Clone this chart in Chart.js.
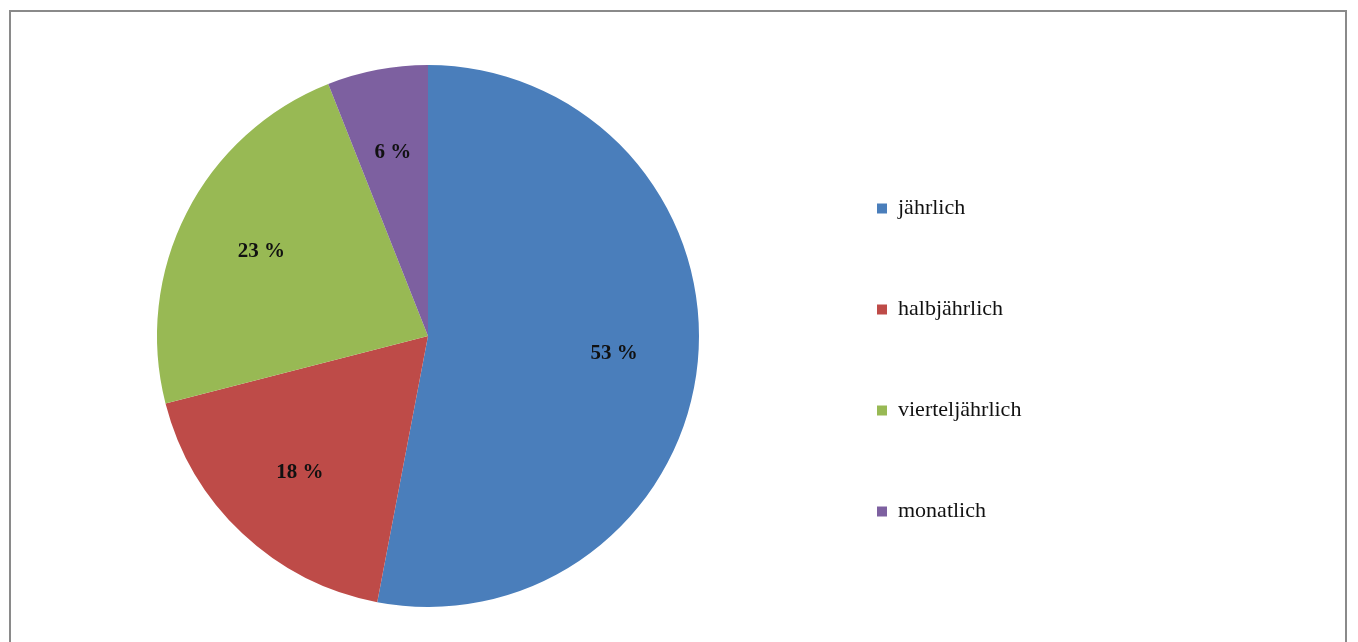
<!DOCTYPE html>
<html>
<head>
<meta charset="utf-8">
<script src="https://cdn.jsdelivr.net/npm/chart.js@4/dist/chart.umd.min.js"></script>
<style>
html,body{margin:0;padding:0;background:#fff;overflow:hidden}
#wrap{position:relative;width:1358px;height:642px}
#frame{position:absolute;left:9px;top:10px;width:1334px;height:700px;border:2px solid #8a8a8a;box-sizing:content-box;pointer-events:none}
canvas{position:absolute;left:0;top:0}
</style>
</head>
<body>
<div id="wrap">
<canvas id="pie" width="1358" height="642"></canvas>
<div id="frame"></div>
</div>
<script>

const categories = ["jährlich", "halbjährlich", "vierteljährlich", "monatlich"]
const shares = [53, 18, 23, 6]
const colors = ["#4a7ebb", "#be4b48", "#98b954", "#7d60a0"]

const legendFont = "'Liberation Serif', serif"
const legendSize = 22
const legendGap = 79
const legendBox = 10

// legend starts at x=798 (its items after the gap); work out how wide it will be
const m = document.createElement("canvas").getContext("2d")
m.font = legendSize + "px " + legendFont
let widest = 0
categories.forEach(c => { widest = Math.max(widest, m.measureText(c).width) })
const legendWidth = Math.ceil(legendGap + legendBox + legendSize / 2 + widest) + 4
const rightPad = 1358 - 798 - legendWidth

// percent labels inside each slice
const sliceLabels = {
  id: "sliceLabels",
  afterDatasetsDraw(chart){
    const ctx = chart.ctx
    const meta = chart.getDatasetMeta(0)
    ctx.save()
    ctx.font = "bold 21px 'Liberation Serif', serif"
    ctx.fillStyle = "#111"
    ctx.textAlign = "center"
    ctx.textBaseline = "middle"
    meta.data.forEach((arc, i) => {
      const p = arc.getProps(["x", "y", "startAngle", "endAngle", "outerRadius"], true)
      const mid = (p.startAngle + p.endAngle) / 2
      const r = p.outerRadius * 0.69
      ctx.fillText(shares[i] + " %", p.x + Math.cos(mid) * r, p.y + Math.sin(mid) * r)
    })
    ctx.restore()
  }
}

new Chart(document.getElementById("pie"), {
  type: "pie",
  data: {
    labels: categories,
    datasets: [{
      data: shares,
      backgroundColor: colors,
      borderWidth: 0
    }]
  },
  options: {
    responsive: false,
    animation: false,
    layout: { padding: { left: 58, right: rightPad, top: 65, bottom: 35 } },
    plugins: {
      tooltip: { enabled: false },
      legend: {
        position: "right",
        maxWidth: legendWidth,
        title: { display: true, text: " ", font: { size: 20 }, padding: { top: 12, bottom: 12 } },
        labels: {
          boxWidth: legendBox,
          boxHeight: legendBox,
          padding: legendGap,
          color: "#111",
          font: { family: legendFont, size: legendSize }
        }
      }
    }
  },
  plugins: [sliceLabels]
})
</script>
</body>
</html>
